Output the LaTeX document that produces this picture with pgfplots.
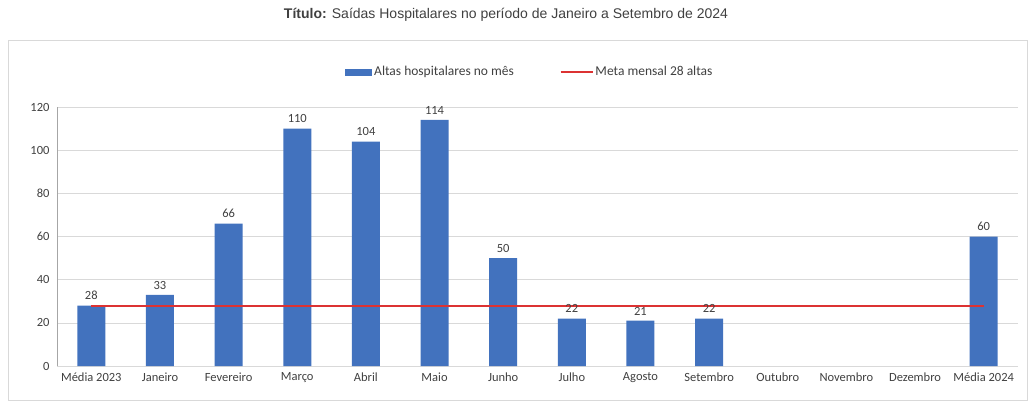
\documentclass[border=0pt]{standalone}
\usepackage{pgfplots}
\pgfplotsset{compat=1.18}
\usepackage{fontspec}
\setmainfont{Carlito}
\newfontfamily\arialfont{Liberation Sans}
\definecolor{barblue}{RGB}{66,114,190}
\definecolor{metared}{RGB}{220,50,50}
\definecolor{gridgray}{RGB}{217,217,217}
\definecolor{axgray}{RGB}{166,166,166}
\definecolor{txt}{RGB}{64,64,64}
\begin{document}
\begin{tikzpicture}[x=1pt,y=1pt]
\path[use as bounding box] (0,0) rectangle (1033,408);
\draw[color=gridgray, line width=0.8pt] (8,8) rectangle (1027,368);
\node[font=\arialfont\fontsize{14}{16}\selectfont, text=txt] at (506,393) {\textbf{Título:} Saídas Hospitalares no período de Janeiro a Setembro de 2024};
\begin{axis}[
  at={(57pt,42pt)}, anchor=south west,
  scale only axis, width=961pt, height=259pt,
  xmin=-0.5, xmax=13.5, ymin=0, ymax=120,
  ytick={0,20,...,120},
  xtick={0,...,13},
  xticklabels={Média 2023,Janeiro,Fevereiro,Março,Abril,Maio,Junho,Julho,Agosto,Setembro,Outubro,Novembro,Dezembro,Média 2024},
  axis x line*=bottom, axis y line*=left,
  axis line style={draw=axgray, -},
  x axis line style={draw=gridgray},
  ymajorgrids, grid style={draw=gridgray, line width=0.6pt},
  major tick length=0pt,
  tick label style={font=\fontsize{12.5}{14}\selectfont, text=txt},
  /pgf/number format/assume math mode=true,
  yticklabel style={xshift=-4pt},
  xticklabel style={yshift=-3pt},
  legend columns=2,
  legend style={at={(0.492,1.135)}, anchor=center, draw=none, fill=none,
    font=\fontsize{13.5}{15}\selectfont, text=txt,
    /tikz/every even column/.append style={column sep=44pt}},
]
\addplot[ybar, bar width=28pt, fill=barblue, draw=none,
  nodes near coords, every node near coord/.append style={font=\fontsize{12.5}{14}\selectfont, text=txt, yshift=2pt},
  legend image code/.code={\fill[barblue] (0pt,-3.5pt) rectangle (27pt,3.5pt);}]
coordinates {(0,28) (1,33) (2,66) (3,110) (4,104) (5,114) (6,50) (7,22) (8,21) (9,22) (13,60)};
\addlegendentry{Altas hospitalares no mês}
\addplot[draw=metared, line width=2pt, mark=none, sharp plot,
  legend image code/.code={\draw[metared, line width=1.5pt] (0pt,0pt) -- (32pt,0pt);}]
coordinates {(0,28) (13,28)};
\addlegendentry{Meta mensal 28 altas}
\end{axis}
\end{tikzpicture}
\end{document}
